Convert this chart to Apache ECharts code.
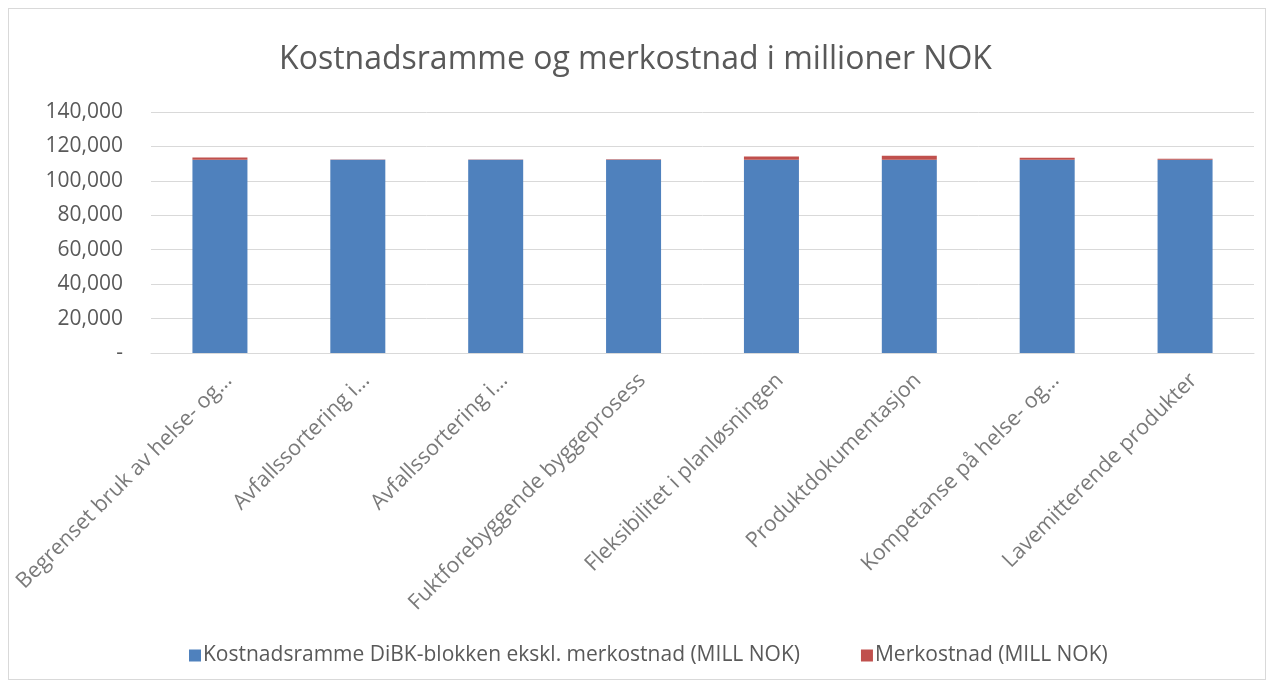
<!DOCTYPE html>
<html>
<head>
<meta charset="utf-8">
<script src="https://cdn.jsdelivr.net/npm/echarts@6/dist/echarts.min.js"></script>
<style>
html,body{margin:0;padding:0;background:#fff;}
#c{position:absolute;left:0;top:0;width:1271px;height:684px;}
#frame{position:absolute;left:8px;top:8px;width:1258px;height:672px;border:1px solid #d9d9d9;box-sizing:border-box;pointer-events:none;}
</style>
</head>
<body>
<div id="c"></div>
<div id="frame"></div>
<script>
const categories = ["Begrenset bruk av helse- og…","Avfallssortering i…","Avfallssortering i…","Fuktforebyggende byggeprosess","Fleksibilitet i planløsningen","Produktdokumentasjon","Kompetanse på helse- og…","Lavemitterende produkter"];
const kostnadsramme = [112300,112300,112300,112300,112300,112300,112300,112300];
const merkostnad = [1300,100,100,200,1900,2300,1100,500];
const yTicks = [0,20000,40000,60000,80000,100000,120000,140000];
const seriesNames = ["Kostnadsramme DiBK-blokken ekskl. merkostnad (MILL NOK)","Merkostnad (MILL NOK)"];

const font = "'Open Sans', sans-serif";
const chart = echarts.init(document.getElementById('c'));
chart.setOption({
  animation:false,
  title:{text:"Kostnadsramme og merkostnad i millioner NOK",left:'center',top:39,
    textStyle:{fontFamily:font,fontSize:32,fontWeight:'normal',color:'#595959'}},
  grid:{left:151,right:17,top:112,bottom:331,containLabel:false},
  legend:{bottom:13,left:184,itemWidth:12,itemHeight:12,itemGap:61,icon:'rect',
    textStyle:{fontFamily:font,fontSize:21,color:'#595959',padding:[0,0,0,-3]},
    data:seriesNames},
  xAxis:{type:'category',data:categories.map((c,i)=>String(i)),
    axisLine:{lineStyle:{color:'#d9d9d9'}},axisTick:{show:false},
    axisLabel:{show:false}},
  yAxis:{type:'value',min:0,max:140000,interval:20000,
    axisLine:{show:false},axisTick:{show:false},
    splitLine:{lineStyle:{color:'#d9d9d9'}},
    axisLabel:{fontFamily:font,fontSize:21,color:'#595959',margin:28,
      formatter:v=> v===0 ? '-' : v.toLocaleString('en-US')}},
  series:[
    {name:seriesNames[0],type:'bar',stack:'a',data:kostnadsramme,barWidth:55,itemStyle:{color:'#4f81bd'}},
    {name:seriesNames[1],type:'bar',stack:'a',data:merkostnad,barWidth:55,itemStyle:{color:'#c0504d'}},
    {name:'labels',type:'scatter',silent:true,symbolSize:0,z:5,
      data:categories.map((c,i)=>[i,0]),
      label:{show:true,position:'inside',formatter:p=>categories[p.dataIndex],rotate:45,
        align:'right',verticalAlign:'middle',offset:[-11,23],
        fontFamily:font,fontSize:21.5,color:'#595959'}}
  ]
});
</script>
</body>
</html>
